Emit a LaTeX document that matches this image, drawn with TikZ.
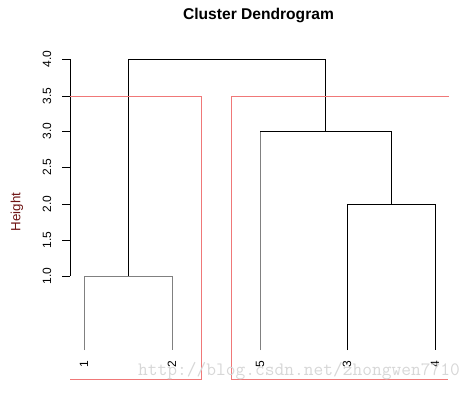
\documentclass[tikz,border=0pt]{standalone}
\usepackage{fontspec}
\setmainfont{Liberation Sans}
\usepackage{tikz}

\begin{document}
\begin{tikzpicture}[x=0.75pt,y=0.75pt,yscale=-1,xscale=1]
\useasboundingbox (0,0) rectangle (476,393);

%Shape: Axis 2D
\draw [line width=0.75] (70,59) -- (70,276) ;
\foreach \yy/\lbl in {59/4.0,96/3.5,131/3.0,167/2.5,204/2.0,240/1.5,276/1.0}{
  \draw [line width=0.75] (62,\yy) -- (70,\yy) ;
  \draw (47,\yy) node [rotate=90,inner sep=0.75pt,font=\fontsize{9}{10}\selectfont] (tick\lbl) {\lbl};
}

%Shape: Dendrogram 1-2
\draw [color={rgb, 255:red, 128; green, 128; blue, 128 }, line width=0.75] (84,350) -- (84,276) -- (172,276) -- (172,350) ;
%Shape: Dendrogram 3-4
\draw [line width=0.75] (347,350) -- (347,204) -- (435,204) -- (435,350) ;
%Shape: Dendrogram 5-(3,4)
\draw [color={rgb, 255:red, 128; green, 128; blue, 128 }, line width=0.75] (260,350) -- (260,131) ;
\draw [line width=0.75] (260,131) -- (391,131) -- (391,204) ;
%Shape: Dendrogram top
\draw [line width=0.75] (128,276) -- (128,59) -- (325.5,59) -- (325.5,131) ;

%Shape: Cluster Box left
\draw [color={rgb, 255:red, 240; green, 120; blue, 120 }, line width=0.75] (70,96) -- (201,96) -- (201,379) -- (70,379) ;
%Shape: Cluster Box right
\draw [color={rgb, 255:red, 240; green, 120; blue, 120 }, line width=0.75] (449,96) -- (231,96) -- (231,379) -- (448,379) ;

% Text Node
\draw (258.5,15) node [inner sep=0.75pt,font=\fontsize{11.7}{13}\selectfont\bfseries] (title) {Cluster Dendrogram};
% Text Node
\draw (17,212) node [rotate=90,inner sep=0.75pt,font=\fontsize{10}{12}\selectfont,color={rgb, 255:red, 110; green, 20; blue, 20 }] (ylab) {Height};
% Text Node
\foreach \xx/\lf in {84/1,172/2,260/5,347/3,435/4}{
  \draw (\xx,364) node [rotate=90,inner sep=0.75pt,font=\fontsize{9}{10}\selectfont] (leaf\lf) {\lf};
}
% Text Node
\draw (299,371) node [inner sep=0pt,font=\ttfamily\fontsize{14.2}{16}\selectfont,color={rgb, 255:red, 215; green, 215; blue, 215 }] (mark) {http://blog.csdn.net/zhongwen7710};

\end{tikzpicture}
\end{document}
